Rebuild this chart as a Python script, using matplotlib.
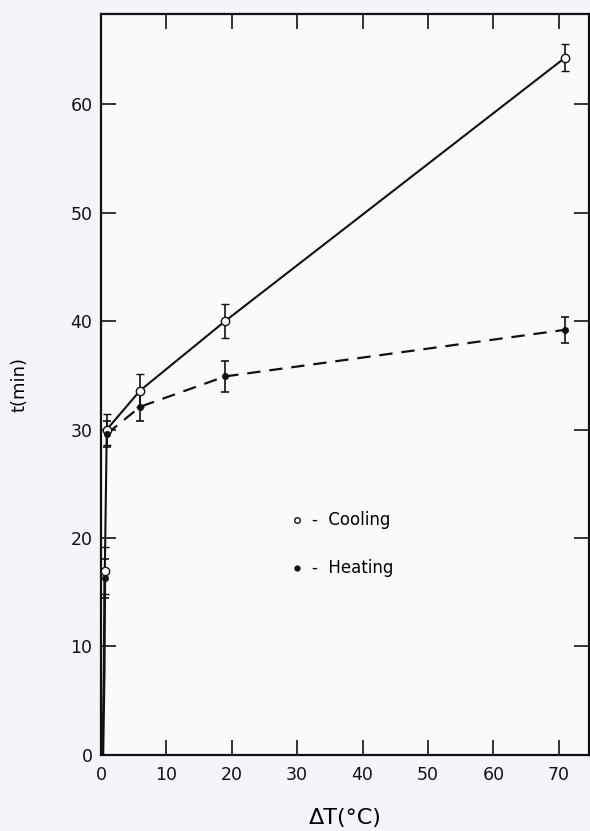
import matplotlib
matplotlib.use("Agg")
import matplotlib.pyplot as plt
import numpy as np

# Data
cool_x = [0.6, 0.9, 6, 19, 71]
cool_y = [17.0, 30.0, 33.6, 40.0, 64.3]
cool_err = [2.2, 1.4, 1.5, 1.6, 1.2]

heat_x = [0.6, 0.9, 6, 19, 71]
heat_y = [16.3, 29.6, 32.1, 34.9, 39.2]
heat_err = [1.8, 1.2, 1.3, 1.4, 1.2]

# lower part of the curve, running down toward the origin
base_x = [0.3, 0.5, 0.6]
base_y = [0.0, 7.8, 17.0]

x_ticks = [0, 10, 20, 30, 40, 50, 60, 70]
y_ticks = [0, 10, 20, 30, 40, 50, 60]

fig = plt.figure(figsize=(5.9, 8.31), dpi=100, facecolor="#f3f5f9")
ax = fig.add_axes([0.171, 0.0915, 0.827, 0.8915])
ax.set_facecolor("#f9fafc")

ax.plot(base_x, base_y, color="#111111", lw=2.0, zorder=3)
ax.plot(cool_x, cool_y, color="#111111", lw=1.5, zorder=3)
ax.errorbar(cool_x, cool_y, yerr=cool_err, fmt="o", mfc="white", mec="#111111",
            ms=6, mew=1.0, ecolor="#111111", elinewidth=1.2, capsize=3, capthick=1.2, zorder=4)
ax.plot(heat_x[1:], heat_y[1:], color="#111111", lw=1.6, ls=(0, (6, 4)), zorder=3)
ax.errorbar(heat_x, heat_y, yerr=heat_err, fmt="o", mfc="#111111", mec="#111111",
            ms=4, ecolor="#111111", elinewidth=1.2, capsize=3, capthick=1.2, zorder=4)

ax.set_xlim(0, 74.6)
ax.set_ylim(0, 68.3)
ax.set_xticks(x_ticks)
ax.set_yticks(y_ticks)
ax.tick_params(axis="both", direction="in", length=11, width=1.2, labelsize=12.5,
               top=True, right=True, colors="#111111")
ax.tick_params(axis="x", pad=8)
ax.tick_params(axis="y", pad=6)
for s in ax.spines.values():
    s.set_linewidth(1.6)
    s.set_color("#111111")

ax.set_xlabel("ΔT(°C)", fontsize=16, labelpad=17)
ax.set_ylabel("t(min)", fontsize=13, labelpad=30)

# legend drawn as text
ax.plot([30.0], [21.7], "o", mfc="white", mec="#111111", ms=4, mew=1.0, clip_on=False)
ax.plot([30.0], [17.2], "o", mfc="#111111", mec="#111111", ms=3.5, clip_on=False)
ax.text(32.3, 21.7, "-  Cooling", fontsize=12, va="center", ha="left")
ax.text(32.3, 17.2, "-  Heating", fontsize=12, va="center", ha="left")

fig.savefig("out.png", dpi=100, facecolor=fig.get_facecolor())
